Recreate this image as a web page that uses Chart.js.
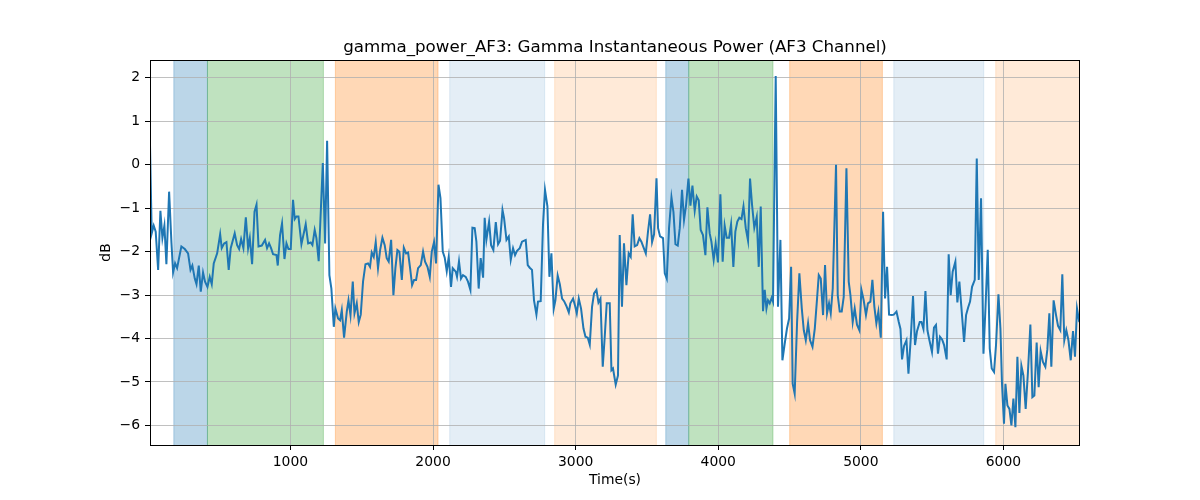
<!DOCTYPE html>
<html>
<head>
<meta charset="utf-8">
<script src="https://cdn.jsdelivr.net/npm/chart.js@4"></script>
<style>
  html, body { margin: 0; padding: 0; background: #fff; }
  canvas { display: block; }
</style>
</head>
<body>
<canvas id="chart" width="1200" height="500"></canvas>
<script>
  "use strict";

  const chartTitle = "gamma_power_AF3: Gamma Instantaneous Power (AF3 Channel)";

  // time (s) of each sample
  const timeSec = [
    15, 27, 41, 55, 72, 88, 102, 116, 130, 149, 165, 177, 191, 205, 235, 259, 282, 299, 312, 329,
    341, 357, 371, 387, 401, 418, 434, 448, 462, 486, 507, 518, 535, 551, 567, 581, 609, 626, 640, 654,
    670, 687, 703, 715, 731, 748, 762, 776, 799, 822, 836, 850, 864, 878, 902, 911, 927, 941, 958, 972,
    986, 1002, 1018, 1030, 1042, 1056,
    1077, 1107, 1124, 1142, 1154, 1170, 1182, 1198, 1227, 1243, 1257, 1273, 1287, 1304, 1315, 1334, 1348, 1360, 1376, 1395,
    1407, 1421, 1437, 1449, 1465, 1479, 1493, 1509, 1526, 1544, 1558, 1570, 1584, 1598, 1614, 1629, 1645, 1661, 1675, 1689,
    1706, 1722, 1736, 1750, 1764, 1781, 1795, 1811, 1825, 1839, 1853, 1867, 1881, 1895, 1914, 1930, 1944, 1961, 1977, 1991,
    2007, 2021, 2038, 2052, 2068, 2082, 2096, 2110, 2126, 2138,
    2159, 2168, 2182, 2196, 2210, 2229, 2245, 2262, 2276, 2292, 2304, 2320, 2334, 2351, 2362, 2374, 2393, 2407, 2423, 2440,
    2456, 2470, 2487, 2498, 2515, 2531, 2545, 2561, 2575, 2589, 2608, 2624, 2650, 2664, 2678, 2694, 2708, 2725, 2736, 2755,
    2771, 2785, 2802, 2816, 2830, 2846, 2858, 2874, 2889, 2905, 2919, 2935, 2952, 2963, 2982, 2994, 3008, 3022, 3038, 3055,
    3069, 3085, 3099, 3115, 3129, 3146, 3160, 3174, 3190, 3204, 3218, 3239,
    3251, 3262, 3281, 3297, 3309, 3325, 3339, 3356, 3372, 3386, 3400, 3414, 3431, 3447, 3461, 3478, 3492, 3508, 3522, 3536,
    3550, 3567, 3578, 3592, 3613, 3625, 3639, 3655, 3672, 3686, 3700, 3716, 3730, 3746, 3760, 3774, 3791, 3805, 3819, 3835,
    3849, 3863, 3877, 3893, 3910, 3924, 3940, 3952, 3968, 3982, 3998, 4015, 4031, 4045, 4059, 4076, 4090, 4106, 4120, 4134,
    4148, 4163, 4177, 4193, 4209, 4223, 4237, 4253, 4270, 4284, 4298, 4314, 4326,
    4338, 4349, 4361, 4375, 4384, 4403, 4419, 4436, 4450, 4466, 4482, 4497, 4511, 4522, 4536, 4553, 4569, 4586, 4600, 4614,
    4630, 4644, 4661, 4677, 4693, 4705, 4719, 4735, 4749, 4763, 4777, 4789, 4803, 4826, 4838, 4852, 4866, 4880, 4899, 4915,
    4927, 4943, 4957, 4973, 4990, 5004, 5020, 5036, 5050, 5067, 5081, 5095, 5109, 5123, 5140, 5156, 5170, 5184, 5198, 5217,
    5231, 5250, 5266, 5278, 5289, 5303, 5320, 5334, 5350, 5366, 5380, 5394, 5413,
    5425, 5439, 5453, 5467, 5481, 5499, 5513, 5527, 5541, 5555, 5570, 5584, 5602, 5616, 5630, 5644, 5663, 5677, 5691, 5705,
    5724, 5738, 5752, 5766, 5780, 5799, 5813, 5827, 5843, 5860, 5874, 5890, 5904, 5918, 5934, 5948, 5965, 5979, 5990, 6004,
    6014, 6028, 6042, 6056, 6070, 6084, 6098, 6112, 6126, 6140, 6156, 6172, 6189, 6203, 6217, 6233, 6247, 6261, 6277, 6294,
    6308, 6322, 6336, 6352, 6369, 6383, 6399, 6413, 6427, 6441, 6456, 6472, 6488, 6502, 6516, 6532
  ];

  // gamma power (dB) at each sample
  const powerDb = [
    0.45, -1.58, -1.40, -1.54, -2.42, -1.06, -1.69, -1.40, -2.29, -0.62, -1.77, -2.48, -2.27, -2.38, -1.88, -1.94, -2.04, -2.42, -2.32, -2.62,
    -2.75, -2.32, -2.92, -2.48, -2.69, -2.81, -2.58, -2.75, -2.27, -2.04, -1.60, -1.92, -1.81, -1.78, -2.42, -1.92, -1.58, -1.85, -1.94, -1.71,
    -1.92, -1.21, -1.92, -1.69, -2.29, -1.08, -0.92, -1.88, -1.86, -1.73, -1.92, -1.81, -1.92, -2.06, -2.08, -2.32, -1.62, -1.35, -2.17, -1.81,
    -1.94, -1.94, -0.81, -1.25, -1.19, -1.19,
    -1.83, -1.37, -1.81, -1.79, -1.85, -1.50, -1.69, -2.22, 0.04, -1.81, 0.55, -2.54, -2.85, -3.73, -3.31, -3.54, -3.58, -3.35, -3.98, -3.38,
    -3.12, -3.46, -2.69, -3.42, -3.19, -3.62, -3.45, -2.69, -2.29, -2.27, -2.35, -2.02, -2.12, -1.78, -2.38, -1.96, -1.68, -1.85, -2.15, -2.23,
    -1.73, -3.00, -2.38, -1.96, -2.00, -2.65, -1.91, -2.04, -2.02, -2.38, -2.77, -2.65, -2.65, -2.38, -2.31, -2.00, -2.23, -2.35, -2.58, -2.00,
    -1.78, -2.27, -0.46, -0.77, -2.00, -2.14, -2.45, -2.12, -2.81, -2.38,
    -2.46, -2.58, -2.22, -2.62, -2.54, -2.58, -2.69, -2.88, -1.45, -1.46, -1.77, -2.85, -2.15, -2.60, -1.22, -1.73, -1.31, -1.85, -1.96, -1.32,
    -1.83, -1.75, -1.04, -1.23, -1.73, -1.65, -2.19, -1.92, -2.08, -1.98, -1.92, -1.77, -1.73, -2.31, -2.37, -2.42, -3.12, -3.45, -3.15, -3.14,
    -1.38, -0.58, -0.96, -2.58, -2.04, -3.32, -3.12, -2.55, -2.75, -3.08, -3.14, -3.25, -3.40, -3.19, -3.08, -3.22, -3.42, -3.08, -3.31, -3.77,
    -3.96, -3.98, -4.14, -3.27, -2.96, -2.88, -3.17, -3.08, -4.65, -3.96, -3.19, -3.19,
    -4.73, -4.69, -5.06, -4.85, -1.62, -3.27, -1.81, -2.77, -2.04, -2.12, -1.14, -1.88, -1.85, -1.69, -1.77, -1.92, -2.04, -1.52, -1.14, -1.78,
    -1.60, -0.31, -1.46, -1.65, -1.69, -2.50, -2.62, -1.46, -0.75, -1.09, -1.83, -1.86, -1.46, -0.58, -1.27, -0.94, -0.32, -0.94, -0.48, -1.06,
    -0.73, -0.82, -1.50, -1.62, -2.08, -0.98, -1.58, -1.77, -2.19, -1.81, -2.25, -0.68, -2.23, -1.40, -1.68, -1.68, -1.37, -2.35, -1.54, -1.31,
    -1.22, -1.25, -0.96, -1.46, -1.75, -0.32, -0.92, -1.45, -1.20, -2.35, -0.96, -3.37, -2.88,
    -3.31, -3.12, -3.19, -3.06, -3.15, 2.04, -3.27, -1.73, -4.50, -4.12, -3.77, -3.54, -2.35, -5.04, -5.27, -3.62, -2.50, -3.31, -3.81, -4.04,
    -3.65, -4.04, -4.19, -3.77, -3.08, -2.54, -2.62, -3.46, -2.31, -3.42, -3.19, -3.42, -2.85, 0.00, -3.00, -3.38, -3.38, -3.04, -0.08, -2.69,
    -3.00, -3.62, -3.31, -3.68, -3.81, -2.88, -3.12, -3.46, -3.19, -3.15, -2.65, -3.27, -3.65, -3.38, -3.98, -1.08, -3.08, -2.35, -3.45, -3.46,
    -3.45, -3.38, -3.62, -3.78, -4.48, -4.17, -4.04, -4.81, -4.00, -3.02, -4.15, -3.83, -3.62,
    -3.62, -3.78, -2.91, -3.81, -4.04, -4.31, -3.75, -3.69, -4.35, -3.96, -4.02, -4.15, -4.48, -2.06, -3.00, -2.46, -2.23, -3.17, -2.69, -3.27,
    -4.08, -3.46, -3.29, -3.15, -2.81, -2.65, 0.14, -2.65, -0.77, -4.35, -3.31, -1.96, -4.23, -4.69, -4.77, -4.15, -2.98, -3.77, -5.04, -5.96,
    -5.04, -5.54, -5.62, -6.00, -5.38, -6.04, -4.42, -5.71, -4.63, -4.85, -5.62, -4.77, -3.68, -5.35, -5.31, -4.09, -5.12, -4.29, -4.54, -4.65,
    -4.25, -3.42, -4.65, -3.12, -3.46, -3.71, -3.81, -2.52, -4.04, -3.81, -4.04, -4.50, -3.83, -4.42, -3.31, -3.62
  ];

  // shaded phases (start / end time in s, kind)
  const bandStart = [182, 418, 1315, 2117, 2853, 3632, 3793, 4501, 5231, 5946];
  const bandEnd = [418, 1231, 2035, 2783, 3566, 3793, 4384, 5151, 5862, 6537];
  const bandKind = ["blue", "green", "orange", "lightblue", "lightorange", "blue", "green", "orange", "lightblue", "lightorange"];

  const xTicks = [1000, 2000, 3000, 4000, 5000, 6000];
  const yTicks = [-6, -5, -4, -3, -2, -1, 0, 1, 2];

  const bandFill = {
    blue: "rgba(31,119,180,0.3)",
    green: "rgba(44,160,44,0.3)",
    orange: "rgba(255,127,14,0.3)",
    lightblue: "rgba(31,119,180,0.12)",
    lightorange: "rgba(255,127,14,0.16)"
  };

  const FONT = "'DejaVu Sans', sans-serif";
  const fmt = (v) => String(v).replace("-", "\u2212");

  // axvspan-like shading, drawn under the grid
  const bandsPlugin = {
    id: "bands",
    beforeDraw(chart) {
      const { ctx, chartArea: a, scales: { x } } = chart;
      ctx.save();
      ctx.beginPath();
      ctx.rect(a.left, a.top, a.right - a.left, a.bottom - a.top);
      ctx.clip();
      bandStart.forEach((s, i) => {
        const x0 = x.getPixelForValue(s);
        const x1 = x.getPixelForValue(bandEnd[i]);
        const c = bandFill[bandKind[i]];
        ctx.fillStyle = c;
        ctx.fillRect(x0, a.top, x1 - x0, a.bottom - a.top);
        // edge in the same translucent colour
        ctx.strokeStyle = c;
        ctx.lineWidth = 1;
        ctx.beginPath();
        ctx.moveTo(x0, a.top);
        ctx.lineTo(x0, a.bottom);
        ctx.moveTo(x1, a.top);
        ctx.lineTo(x1, a.bottom);
        ctx.stroke();
      });
      ctx.restore();
    }
  };

  const framePlugin = {
    id: "frame",
    afterDraw(chart) {
      const { ctx, chartArea: a } = chart;
      ctx.save();
      ctx.strokeStyle = "#000";
      ctx.lineWidth = 1;
      ctx.strokeRect(Math.round(a.left) + 0.5, Math.round(a.top) + 0.5,
        Math.round(a.right - a.left) - 1, Math.round(a.bottom - a.top));
      ctx.fillStyle = "#000";
      ctx.font = "16.7px " + FONT;
      ctx.textAlign = "center";
      ctx.textBaseline = "alphabetic";
      ctx.fillText(chartTitle, (a.left + a.right) / 2, a.top - 8);
      ctx.restore();
    }
  };

  const tickFont = { family: FONT, size: 13.9 };
  const gridStyle = { color: "#b0b0b0", lineWidth: 0.8, tickColor: "#000", tickLength: 5, tickWidth: 1 };

  new Chart(document.getElementById("chart"), {
    type: "line",
    data: {
      datasets: [{
        data: timeSec.map((t, i) => ({ x: t, y: powerDb[i] })),
        borderColor: "#1f77b4",
        borderWidth: 2,
        pointRadius: 0,
        tension: 0,
        fill: false
      }]
    },
    options: {
      responsive: false,
      animation: false,
      layout: { padding: { top: 60, right: 120, bottom: 10, left: 0 } },
      plugins: { legend: { display: false }, tooltip: { enabled: false } },
      scales: {
        x: {
          type: "linear",
          min: 15,
          max: 6537,
          afterBuildTicks: (s) => { s.ticks = xTicks.map((v) => ({ value: v })); },
          afterFit: (s) => { s.height = 45; },
          grid: gridStyle,
          border: { display: false },
          ticks: { color: "#000", font: tickFont, padding: 4, maxRotation: 0, callback: fmt },
          title: { display: true, text: "Time(s)", color: "#000", font: tickFont, padding: { top: 0, bottom: 1 } }
        },
        y: {
          min: -6.45,
          max: 2.41,
          afterBuildTicks: (s) => { s.ticks = yTicks.map((v) => ({ value: v })); },
          afterFit: (s) => { s.width = 150; },
          grid: gridStyle,
          border: { display: false },
          ticks: { color: "#000", font: tickFont, padding: 5, callback: fmt },
          title: { display: true, text: "dB", color: "#000", font: tickFont, padding: { top: 98, bottom: 0 } }
        }
      }
    },
    plugins: [bandsPlugin, framePlugin]
  });
</script>
</body>
</html>
